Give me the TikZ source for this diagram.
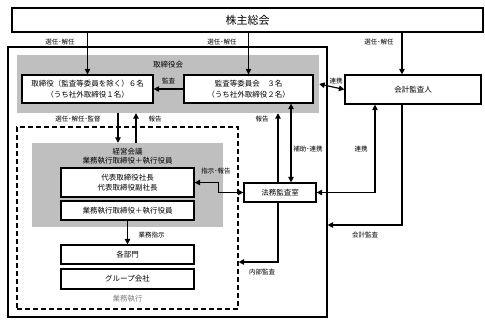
\documentclass[tikz,border=0pt]{standalone}
\usepackage{fontspec}
\setmainfont{Noto Sans CJK JP}
\usetikzlibrary{positioning,arrows.meta}

\tikzset{
  box/.style={draw, line width=1.2pt, fill=white, inner sep=0pt, align=center,
    font=\fontsize{7.5}{10.5}\selectfont},
  panel/.style={fill=black!25, inner sep=0pt},
  lbl/.style={font=\fontsize{6.5}{7}\selectfont, inner sep=0pt},
  arr/.style={line width=1.2pt, -{Triangle[length=5.5pt,width=5.5pt]}},
  darr/.style={line width=1.2pt, {Triangle[length=5.5pt,width=5.5pt]}-{Triangle[length=5.5pt,width=5.5pt]}},
}

\begin{document}
\begin{tikzpicture}[x=1pt, y=-1pt]
  \useasboundingbox (0,0) rectangle (485,325);

  % frames and grey panels
  \node[draw, line width=1.2pt, inner sep=0pt, minimum width=319pt, minimum height=270pt] (company) at (167.5,182) {};
  \node[panel, minimum width=302pt, minimum height=58pt] (board) at (168,84) {};
  \node[draw, line width=1.2pt, dash pattern=on 5pt off 3pt, inner sep=0pt,
    minimum width=221pt, minimum height=182pt] (exec) at (127.5,218) {};
  \node[panel, minimum width=191pt, minimum height=84pt] (mgmt) at (127.5,185) {};

  % boxes
  \node[box, minimum width=471pt, minimum height=24pt, font=\fontsize{11}{13}\selectfont] (gm) at (247.5,20) {株主総会};
  \node[box, minimum width=131pt, minimum height=28pt] (dir) at (87.5,89) {取締役（監査等委員を除く）６名\\（うち社外取締役１名）};
  \node[box, minimum width=129pt, minimum height=28pt] (acb) at (248.5,89) {監査等委員会　３名\\（うち社外取締役２名）};
  \node[box, minimum width=136pt, minimum height=29pt] (auditor) at (413,89.5) {会計監査人};
  \node[box, minimum width=133pt, minimum height=29pt] (rep) at (127.5,182.5) {代表取締役社長\\代表取締役副社長};
  \node[box, minimum width=133pt, minimum height=19pt] (execoff) at (127.5,210.5) {業務執行取締役＋執行役員};
  \node[box, minimum width=133pt, minimum height=19pt] (dept) at (127.5,254.5) {各部門};
  \node[box, minimum width=133pt, minimum height=20pt] (group) at (127.5,279) {グループ会社};
  \node[box, minimum width=72pt, minimum height=19pt] (legal) at (280,192.5) {法務監査室};

  % panel titles
  \node[font=\fontsize{7.5}{9}\selectfont, inner sep=0pt] (boardtitle) at (168,65) {取締役会};
  \node[font=\fontsize{7.5}{9}\selectfont, inner sep=0pt, align=center] (mgmttitle) at (127.5,156.5) {経営会議\\業務執行取締役＋執行役員};
  \node[font=\fontsize{7.5}{9}\selectfont, inner sep=0pt, text=black!50] (exectitle) at (127.5,299) {業務執行};

  % connectors
  \draw[arr] (dir.north |- gm.south) -- (dir.north);
  \draw[arr] (acb.north |- gm.south) -- (acb.north);
  \draw[arr] ([xshift=-11pt]auditor.north |- gm.south) -- ([xshift=-11pt]auditor.north);
  \draw[arr] (acb.west) -- (dir.east);
  \draw[darr] (board.east) -- (auditor.west);
  \draw[arr] ([xshift=-9.5pt]mgmt.north |- board.south) -- ([xshift=-9.5pt]mgmt.north);
  \draw[arr] ([xshift=8.5pt]mgmt.north) -- ([xshift=8.5pt]mgmt.north |- board.south);
  \draw[arr] ([xshift=-2pt]legal.north) -- ([xshift=-2pt]legal.north |- board.south);
  \draw[darr] ([xshift=11pt]legal.north |- acb.south) -- ([xshift=11pt]legal.north);
  \draw[darr] (rep.east) -- ++(24,0) |- (legal.west);
  \draw[darr] (legal.east) -| ([xshift=-38pt]auditor.south);
  \draw[arr] ([xshift=-11pt]auditor.south) |- ([yshift=-43pt]company.east);
  \draw[arr] ([xshift=-2pt]legal.south) |- ([yshift=-44pt]exec.east);
  \draw[arr] (execoff.south) -- (dept.north);

  % labels
  \node[lbl] (l1) at (60,42) {選任･解任};
  \node[lbl] (l2) at (222,42) {選任･解任};
  \node[lbl] (l3) at (379,42) {選任･解任};
  \node[lbl] (l4) at (168.5,81) {監査};
  \node[lbl] (l5) at (336,81) {連携};
  \node[lbl] (l6) at (78,119) {選任･解任･監督};
  \node[lbl] (l7) at (155,119) {報告};
  \node[lbl] (l8) at (262,119) {報告};
  \node[lbl] (l9) at (308,149) {補助･連携};
  \node[lbl] (l10) at (361,149) {連携};
  \node[lbl] (l11) at (216,171) {指示･報告};
  \node[lbl] (l12) at (151.5,235) {業務指示};
  \node[lbl] (l13) at (365,235) {会計監査};
  \node[lbl] (l14) at (262,272) {内部監査};
\end{tikzpicture}
\end{document}
